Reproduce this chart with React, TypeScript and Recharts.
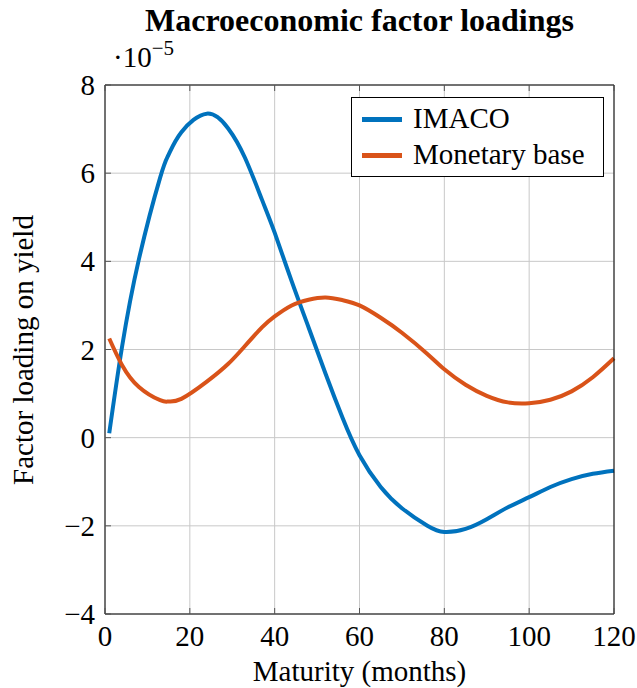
import React from "react";
import { LineChart, Line, XAxis, YAxis, CartesianGrid } from "recharts";

const maturities = [1, 4, 8, 13, 15, 18, 24, 29, 33, 37, 40, 44, 48, 52, 56, 60, 65, 70, 76, 80, 85, 90, 95, 100, 105, 110, 115, 120];
const imaco = [0.1, 2.05, 4.05, 5.9, 6.42, 6.93, 7.35, 7.02, 6.35, 5.4, 4.65, 3.55, 2.5, 1.45, 0.45, -0.4, -1.12, -1.6, -2.0, -2.14, -2.07, -1.85, -1.58, -1.35, -1.12, -0.94, -0.82, -0.75];
const monetaryBase = [2.25, 1.65, 1.15, 0.85, 0.82, 0.88, 1.27, 1.67, 2.08, 2.5, 2.75, 3.0, 3.13, 3.18, 3.12, 3.0, 2.72, 2.38, 1.9, 1.55, 1.2, 0.95, 0.8, 0.78, 0.86, 1.05, 1.37, 1.8];

const xTicks = [0, 20, 40, 60, 80, 100, 120];
const yTicks = [-4, -2, 0, 2, 4, 6, 8];

const BLUE = "#0072BD";
const ORANGE = "#D95319";
const FONT = "'Liberation Serif', 'DejaVu Serif', serif";

const data = maturities.map((m, i) => ({ m, imaco: imaco[i], mb: monetaryBase[i] }));

const fmt = (v: number) => (v < 0 ? "\u2212" + Math.abs(v) : String(v));

const LeftTick = ({ x, y, payload }: any) => (
  <g>
    <line x1={x + 10} x2={x + 16} y1={y} y2={y} stroke="#555" />
    <text x={x} y={y} dy={10} textAnchor="end" fontSize={29} fontFamily={FONT} fill="#000">
      {fmt(payload.value)}
    </text>
  </g>
);

const BottomTick = ({ x, y, payload }: any) => (
  <g>
    <line x1={x} x2={x} y1={y - 8} y2={y - 14} stroke="#555" />
    <text x={x} y={y} dy={24} textAnchor="middle" fontSize={29} fontFamily={FONT} fill="#000">
      {payload.value}
    </text>
  </g>
);

const TopTick = ({ x, y }: any) => <line x1={x} x2={x} y1={y} y2={y + 6} stroke="#555" />;
const RightTick = ({ x, y }: any) => <line x1={x} x2={x - 6} y1={y} y2={y} stroke="#555" />;

export default function App() {
  return (
    <div style={{ position: "absolute", left: 0, top: 0, width: 637, height: 688, background: "#fff", fontFamily: FONT }}>
      <LineChart width={637} height={688} data={data} margin={{ top: 75, right: 13, bottom: 14, left: 45 }}>
        <CartesianGrid stroke="#c8c8c8" strokeWidth={1} />
        <XAxis dataKey="m" type="number" domain={[0, 120]} ticks={xTicks} height={60} tickSize={0} tickMargin={8} tick={<BottomTick />} axisLine={{ stroke: "#000" }} />
        <XAxis xAxisId="top" dataKey="m" type="number" orientation="top" domain={[0, 120]} ticks={xTicks} height={10} tickSize={0} tickMargin={0} tick={<TopTick />} axisLine={{ stroke: "#000" }} />
        <YAxis type="number" domain={[-4, 8]} ticks={yTicks} width={60} tickSize={0} tickMargin={10} tick={<LeftTick />} axisLine={{ stroke: "#000" }} />
        <YAxis yAxisId="right" orientation="right" type="number" domain={[-4, 8]} ticks={yTicks} width={10} tickSize={0} tickMargin={0} tick={<RightTick />} axisLine={{ stroke: "#000" }} />
        <Line type="natural" dataKey="imaco" stroke={BLUE} strokeWidth={4} dot={false} isAnimationActive={false} />
        <Line type="natural" dataKey="mb" stroke={ORANGE} strokeWidth={4} dot={false} isAnimationActive={false} />
      </LineChart>

      <div style={{ position: "absolute", left: 105, width: 509, top: 1, textAlign: "center", fontSize: 32, fontWeight: "bold", lineHeight: "38px" }}>
        Macroeconomic factor loadings
      </div>
      <div style={{ position: "absolute", left: 113, top: 40, fontSize: 29, lineHeight: "34px" }}>
        {"\u00b710"}
        <span style={{ fontSize: 21, position: "relative", top: -12 }}>{"\u22125"}</span>
      </div>
      <div style={{ position: "absolute", left: 105, width: 509, top: 653, textAlign: "center", fontSize: 29, lineHeight: "36px" }}>
        Maturity (months)
      </div>
      <div
        style={{
          position: "absolute",
          left: 23,
          top: 350,
          fontSize: 29,
          lineHeight: "34px",
          whiteSpace: "nowrap",
          transform: "translate(-50%, -50%) rotate(-90deg)",
        }}
      >
        Factor loading on yield
      </div>

      <div
        style={{
          position: "absolute",
          left: 351,
          top: 97,
          width: 251,
          height: 78,
          border: "1px solid #000",
          background: "#fff",
          fontSize: 29,
          lineHeight: "34px",
        }}
      >
        <div style={{ position: "absolute", left: 10, top: 19, width: 40, height: 5, background: BLUE }} />
        <div style={{ position: "absolute", left: 61, top: 3 }}>IMACO</div>
        <div style={{ position: "absolute", left: 10, top: 55, width: 40, height: 5, background: ORANGE }} />
        <div style={{ position: "absolute", left: 61, top: 39 }}>Monetary base</div>
      </div>
    </div>
  );
}
